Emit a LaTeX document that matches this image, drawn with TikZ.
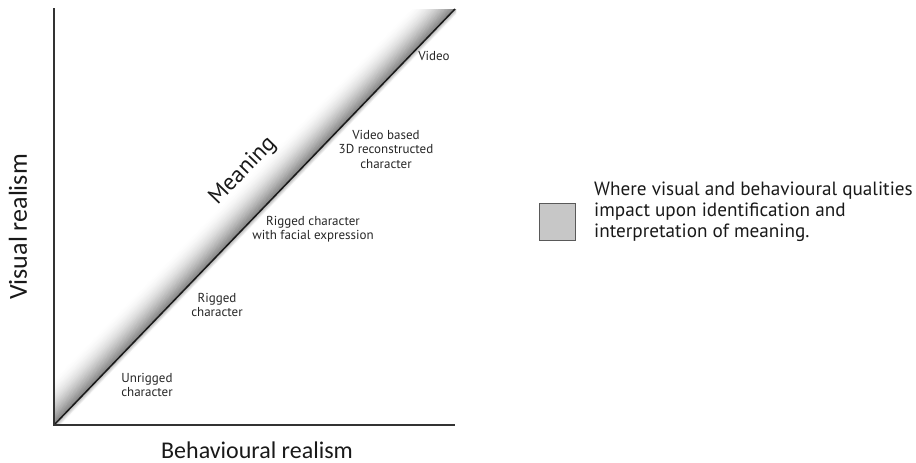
\documentclass[tikz,border=0pt]{standalone}
\usepackage{fontspec}
\setmainfont{PT Sans}
\newfontfamily\axisfont{Carlito}
\begin{document}
\begin{tikzpicture}[x=1pt,y=-1pt,
  axisline/.style={line width=1.8pt, draw=black!80},
  diagline/.style={line width=1.5pt, draw=black!90},
  smalllabel/.style={align=center, font=\fontsize{13}{14.5}\selectfont, text=black!85, inner sep=0pt},
  axislabel/.style={font=\axisfont\fontsize{24}{28}\selectfont, text=black!90, inner sep=0pt},
  legendtext/.style={align=left, font=\fontsize{19.2}{21.2}\selectfont, text=black!90, inner sep=0pt, anchor=west}]
\useasboundingbox (0,0) rectangle (916,463);
% shadow band above the diagonal
\begin{scope}
  \clip (54,9) rectangle (456,425);
  \foreach \i in {0,0.5,...,32} {
    \pgfmathsetmacro{\p}{50*(1-\i/32)^1.7}
    \draw[line width=0.8pt, draw=black!\p]
      ({54-0.720*\i-20*0.694},{425-0.694*\i+20*0.720}) -- ({455-0.720*\i+20*0.694},{9-0.694*\i-20*0.720});
  }
  \foreach \i in {0,0.5,...,5} {
    \pgfmathsetmacro{\p}{35*(1-\i/5)}
    \draw[line width=0.8pt, draw=black!\p]
      ({54+0.720*\i-20*0.694},{425+0.694*\i+20*0.720}) -- ({455+0.720*\i+20*0.694},{9+0.694*\i-20*0.720});
  }
\end{scope}
\coordinate (O) at (54,425);
\coordinate (Ytop) at (54,8);
\coordinate (Xend) at (455,425);
\coordinate (Dend) at (455,9);
\draw[diagline] (O) -- (Dend);
\draw[axisline] (Ytop) -- (O) -- (Xend);
% labels
\node[smalllabel] (video) at (434,56) {Video};
\node[smalllabel] (vb) at (386,149) {Video based\\3D reconstructed\\character};
\node[smalllabel] (rcf) at (313,229) {Rigged character\\with facial expression};
\node[smalllabel] (rc) at (217,305) {Rigged\\character};
\node[smalllabel] (urc) at (147,385) {Unrigged\\character};
\node[font=\fontsize{23}{26}\selectfont, text=black!90, rotate=46, inner sep=0pt] (meaning) at (243,171) {Meaning};
\node[axislabel] (xlab) at (257,450) {Behavioural realism};
\node[axislabel, rotate=90, font=\axisfont\fontsize{26}{30}\selectfont] (ylab) at (18,227) {Visual realism};
% legend
\node[draw=black!65, fill=black!22, line width=0.8pt, minimum width=36pt, minimum height=37pt, inner sep=0pt] (legbox) at (557,221.5) {};
\node[legendtext] (legtext) at (594,212) {Where visual and behavioural qualities\\impact upon identification and\\interpretation of meaning.};
\end{tikzpicture}
\end{document}
